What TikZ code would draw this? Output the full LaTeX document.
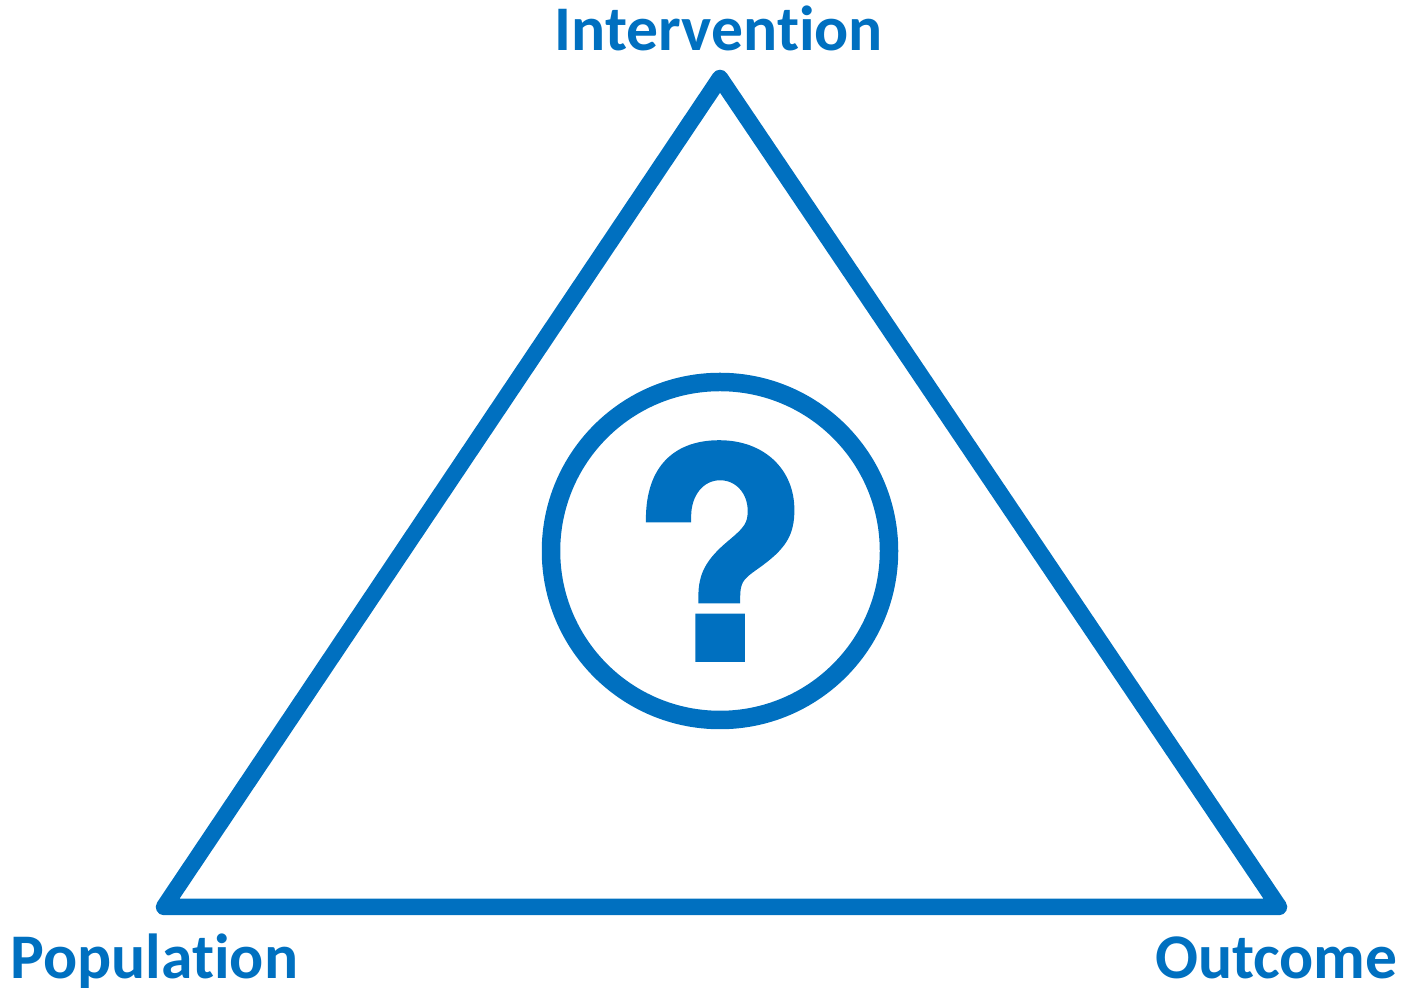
\documentclass[tikz,border=0pt]{standalone}
\usepackage{fontspec}
\setmainfont[Ligatures=NoCommon]{Carlito}
\newfontfamily\markfont[BoldFeatures={FakeBold=2}]{TeX Gyre Heros}
\definecolor{picoblue}{RGB}{0,112,192}
\tikzset{
  corner/.style={anchor=base, inner sep=0pt, text=picoblue, font=\fontsize{36.2}{36.2}\selectfont\bfseries},
  edge/.style={draw=picoblue, line width=0.33cm, line join=round},
  ring/.style={draw=picoblue, line width=0.37cm},
  askmark/.style={inner sep=0pt, text=picoblue, font=\fontsize{165}{165}\selectfont\markfont\bfseries}
}
\begin{document}
\begin{tikzpicture}
\useasboundingbox (0, 0) rectangle (28.12, 19.78);

% Corners of the triangle
\coordinate (top) at (14.40, 18.22);
\coordinate (left) at (3.28, 1.64);
\coordinate (right) at (25.58, 1.64);
\draw[edge] (left) -- (top) -- (right) -- cycle;

% Labels at the corners
\node[corner] (intervention) at (14.38, 18.76) {Intervention};
\node[corner, anchor=base west] (population) at (0.2, 0.2) {Population};
\node[corner, anchor=base east] (outcome) at (27.96, 0.2) {Outcome};

% Circle with the question mark
\coordinate (centre) at (14.40, 8.76);
\draw[ring] (centre) circle (3.38);
\node[askmark] (ask) at (14.40, 8.76) {?};
\end{tikzpicture}
\end{document}
